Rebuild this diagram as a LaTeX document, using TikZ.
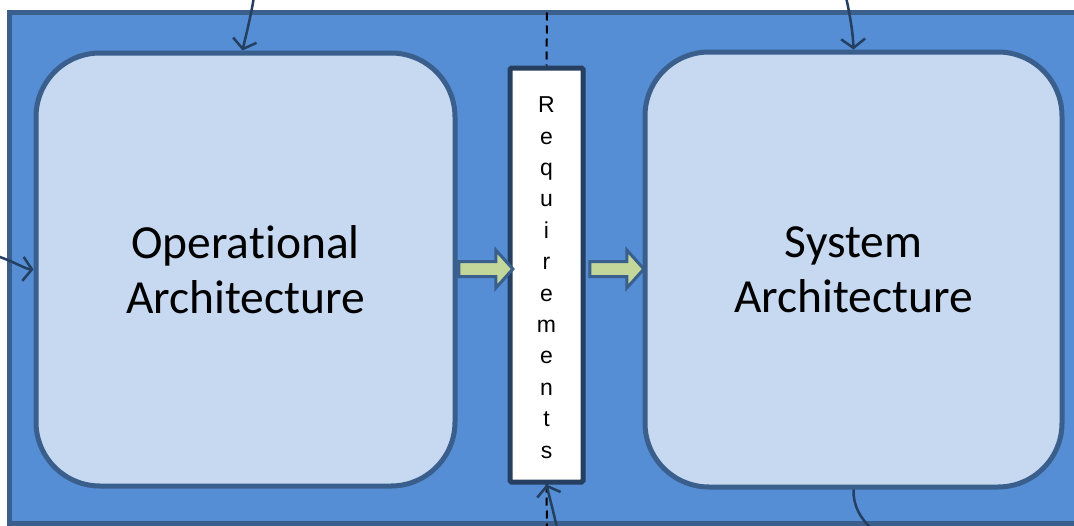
\documentclass[tikz,border=0pt]{standalone}
\usepackage{fontspec}
\setmainfont[RawFeature=-liga]{Carlito}
\newfontfamily\arialfont{Liberation Sans}
\usetikzlibrary{arrows.meta,shapes.arrows}

\definecolor{panelfill}{HTML}{558ED5}
\definecolor{panelline}{HTML}{3A5F8C}
\definecolor{boxfill}{HTML}{C6D9F1}
\definecolor{reqline}{HTML}{263F60}
\definecolor{flowfill}{HTML}{C4D79B}
\definecolor{linkcol}{HTML}{243F60}

\tikzset{
  archbox/.style={draw=panelline, fill=boxfill, line width=5pt, rounded corners=64pt,
    inner sep=0pt, align=center, font=\fontsize{47.5}{55}\selectfont},
  reqbox/.style={draw=reqline, fill=white, line width=5pt, rounded corners=1.5pt,
    inner sep=0pt, minimum width=73pt, minimum height=414pt},
  reqletters/.style={font=\arialfont\fontsize{23}{31.4}\selectfont, align=center,
    inner sep=0pt},
  flow/.style={single arrow, draw=panelline, fill=flowfill, line width=3pt,
    inner xsep=0pt, inner ysep=6pt, single arrow head extend=11.5pt,
    single arrow tip angle=96, minimum height=54pt},
  link/.style={draw=linkcol, line width=2.5pt,
    -{Straight Barb[length=9pt,width=24pt,line width=2.5pt]}},
  plainlink/.style={draw=linkcol, line width=2.5pt},
  guide/.style={draw=black, line width=2pt, dash pattern=on 8pt off 5pt},
}

\begin{document}
\begin{tikzpicture}[x=1pt,y=-1pt]
\useasboundingbox (0,0) rectangle (1074,525);

% background panel
\draw[fill=panelfill, draw=panelline, line width=5pt] (9.5,12.5) rectangle (1090,523);

% free ends of the connectors
\coordinate (topL) at (254,-3);
\coordinate (topR) at (846,-3);
\coordinate (sideL) at (-3,256);
\coordinate (botM) at (557,528);
\coordinate (botR) at (871,528);
\coordinate (dashTop) at (547,12.5);
\coordinate (dashBot) at (547,528);

% requirements column
\node[reqbox] (req) at (546.5,275) {};

% dashed divider
\draw[guide] (dashTop) -- (req.north);
\draw[guide] (req.south) -- (dashBot);

% vertical lettering (anchored on the baseline of the last letter)
\node[reqletters, anchor=base] (reqtext) at (546.5,458)
  {R\\e\\q\\u\\i\\r\\e\\m\\e\\n\\t\\s};

% architecture boxes
\node[archbox, minimum width=419pt, minimum height=433pt] (op) at (245.5,269.5)
  {Operational\\Architecture};
\node[archbox, minimum width=417pt, minimum height=435pt] (sys) at (853.5,269.5)
  {System\\Architecture};

% flow arrows through the requirements
\node[flow] (f1) at (482.5,269) {};
\node[flow] (f2) at (613.5,269) {};

% incoming and outgoing links
\draw[link] (topL) .. controls (250,20) and (246,35) .. ([xshift=-3pt]op.north);
\draw[link] (topR) .. controls (851,20) and (853,35) .. (sys.north);
\draw[link] (sideL) .. controls (15,262) and (25,269) .. (op.west);
\draw[link] (botM) .. controls (553,510) and (549,495) .. (req.south);
\draw[plainlink] (sys.south) .. controls (853,505) and (860,518) .. (botR);
\end{tikzpicture}
\end{document}
